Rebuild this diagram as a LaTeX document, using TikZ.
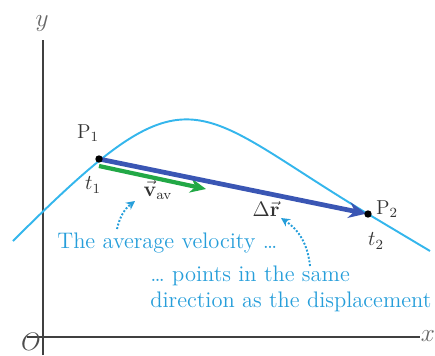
\documentclass[tikz,border=0pt]{standalone}
\usepackage{amsmath}
\usepackage{tikz}
\usetikzlibrary{arrows.meta, positioning, calc}
\definecolor{pathblue}{RGB}{52,182,236}
\definecolor{dispblue}{RGB}{58,86,180}
\definecolor{velgreen}{RGB}{34,168,70}
\definecolor{notecol}{RGB}{38,158,218}

\begin{document}
\begin{tikzpicture}[x=0.02cm, y=-0.02cm, >=Stealth, font=\fontsize{11.5}{13.5}\selectfont]
  \tikzset{
    axis/.style={draw=black!75, line width=1.1pt},
    trajectory/.style={draw=pathblue, line width=1.1pt},
    dispvec/.style={draw=dispblue, line width=2.7pt,
      -{Stealth[length=10pt, width=9pt]}},
    velvec/.style={draw=velgreen, line width=2.4pt,
      -{Stealth[length=9pt, width=8pt]}},
    pointdot/.style={circle, fill=black, inner sep=0pt, minimum size=4.2pt},
    ptlabel/.style={text=black!80, inner sep=1pt},
    note/.style={text=notecol, font=\fontsize{12.8}{14.5}\selectfont,
      align=left, inner sep=0pt},
    hint/.style={draw=notecol, line width=1.1pt, densely dotted,
      -{Stealth[length=5pt, width=5pt]}},
  }
  \useasboundingbox (0,0) rectangle (435,355);

  % axes
  \coordinate (origin) at (43,337);
  \coordinate (ybot) at (43,355);
  \coordinate (ytop) at (43,40);
  \coordinate (xstart) at (27,337);
  \coordinate (xend) at (420,337);
  \draw[axis] (ybot) -- (ytop);
  \draw[axis] (xstart) -- (xend);
  \node[text=black!60, font=\Large] (ylab) at (42,24) {$y$};
  \node[text=black!60, font=\Large, inner sep=1pt] (xlab) at (428,336) {$x$};
  \node[text=black!70, font=\Large, inner sep=0pt] (olab) at (31,342) {$O$};

  % trajectory
  \coordinate (Tstart) at (13,241);
  \coordinate (P2) at (368,214);
  \coordinate (Tend) at (430,251);
  \draw[trajectory] (Tstart) .. controls (193,61) and (188,106) .. (P2)
    -- (Tend);

  \coordinate (P1) at (99,159);
  \coordinate (V1) at (99,166);
  \coordinate (V2) at (206,189);

  % vectors
  \draw[velvec] (V1) -- (V2);
  \draw[dispvec, shorten >=1pt] (P1) -- (P2);
  \node[pointdot] (dot1) at (P1) {};
  \node[pointdot] (dot2) at (P2) {};

  % labels
  \node[ptlabel] (P1lab) at (88,133) {P$_1$};
  \node[ptlabel] (t1lab) at (93,185) {$t_1$};
  \node[ptlabel] (P2lab) at (387,209) {P$_2$};
  \node[ptlabel] (t2lab) at (376,241) {$t_2$};
  \node[ptlabel] (vavlab) at (158,190) {$\vec{\mathbf{v}}_{\mathrm{av}}$};
  \node[ptlabel] (drlab) at (266,209) {$\Delta\vec{\mathbf{r}}$};

  % notes
  \node[note, anchor=west] (note1) at (57,243) {The average velocity \ldots};
  \node[note, anchor=west] (note2) at (150,289)
    {\ldots\ points in the same\\direction as the displacement};

  \coordinate (h1) at (117,229);
  \coordinate (h1end) at (135,201);
  \coordinate (h2) at (310,266);
  \coordinate (h2end) at (281,218);
  \draw[hint] (h1) to[bend left=20] (h1end);
  \draw[hint] (h2) to[bend right=25] (h2end);
\end{tikzpicture}
\end{document}
